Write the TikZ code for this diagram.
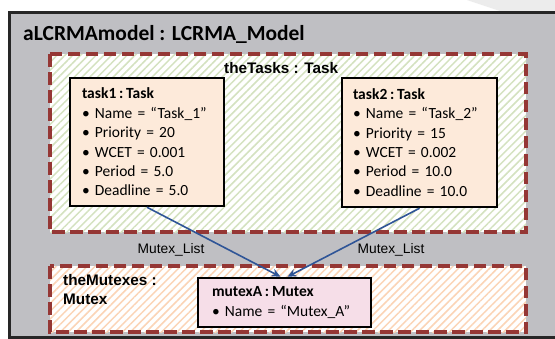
\documentclass[tikz,border=0pt]{standalone}
\usepackage{fontspec}
\setmainfont{Carlito}
\newfontfamily\arialfont{Liberation Sans}
\usetikzlibrary{patterns.meta,arrows.meta}

\definecolor{framegray}{RGB}{191,191,195}
\definecolor{frameline}{RGB}{38,38,38}
\definecolor{cornergray}{RGB}{236,236,236}
\definecolor{dashred}{RGB}{149,55,53}
\definecolor{hatchgreen}{RGB}{212,226,192}
\definecolor{hatchorange}{RGB}{251,212,182}
\definecolor{taskfill}{RGB}{253,234,218}
\definecolor{mutexfill}{RGB}{246,222,232}
\definecolor{linkblue}{RGB}{47,85,151}

\newcommand{\ofcls}{\hspace{0.18em}:\hspace{0.18em}}

\tikzset{
  groupbox/.style={draw=dashred, line width=4pt, dash pattern=on 12.5pt off 5.5pt},
  greenhatch/.style={preaction={fill=white},
    pattern={Lines[angle=45,distance=5.5pt,line width=1.5pt]}, pattern color=hatchgreen},
  orangehatch/.style={preaction={fill=white},
    pattern={Lines[angle=45,distance=5.5pt,line width=1.5pt]}, pattern color=hatchorange},
  objbox/.style={draw=black, line width=2.5pt, rectangle, inner ysep=0pt,
    align=left, font=\fontsize{15.5}{19.4}\selectfont},
  grouplabel/.style={font=\arialfont\bfseries\fontsize{15.3}{19}\selectfont, inner sep=0pt, align=left},
  linklabel/.style={font=\arialfont\fontsize{13.8}{16}\selectfont, inner sep=0pt},
  assoc/.style={draw=linkblue, line width=1.6pt,
    -{Stealth[length=9pt,width=8pt,inset=3pt]}}
}

\begin{document}
\begin{tikzpicture}[x=1pt,y=-1pt]
\useasboundingbox (0,0) rectangle (555,338);
\fill[white] (0,0) rectangle (555,338);
\fill[cornergray] (467,0) -- (555,0) -- (555,11) -- (500,11) -- cycle;

% outer model frame
\draw[fill=framegray, draw=frameline, line width=3pt] (9.5,12) rectangle (565,337.5);
\node[anchor=base west, inner sep=0pt, font=\bfseries\fontsize{21.5}{24}\selectfont]
  (title) at (23,40) {aLCRMAmodel : LCRMA\_Model};

% task group
\path[greenhatch] (50,54) rectangle (526,232);
\draw[groupbox] (50,54) rectangle (526,232);
\node[grouplabel, anchor=base west] (tasksLabel) at (224,73) {theTasks : Task};

% mutex group
\path[orangehatch] (50,266) rectangle (526,332);
\draw[groupbox] (50,266) rectangle (526,332);
\node[grouplabel, anchor=base west] (mutexesLabel) at (63,304) {theMutexes :\\Mutex};

% objects
\node[objbox, fill=taskfill, minimum width=154pt, minimum height=128pt,
      inner xsep=12pt, text width=130pt] (task1) at (147,142)
  {\textbf{task1\ofcls Task}\\
   • Name = “Task\_1”\\
   • Priority = 20\\
   • WCET = 0.001\\
   • Period = 5.0\\
   • Deadline = 5.0};

\node[objbox, fill=taskfill, minimum width=155pt, minimum height=129pt,
      inner xsep=11pt, text width=133pt] (task2) at (419.5,142.5)
  {\textbf{task2\ofcls Task}\\
   • Name = “Task\_2”\\
   • Priority = 15\\
   • WCET = 0.002\\
   • Period = 10.0\\
   • Deadline = 10.0};

\node[objbox, fill=mutexfill, minimum width=173pt, minimum height=49pt,
      inner xsep=14pt, text width=145pt] (mutexA) at (284.5,302.5)
  {\textbf{mutexA\ofcls Mutex}\\
   • Name = “Mutex\_A”};

% associations
\draw[assoc] (task1.south) -- ([xshift=-4pt]mutexA.north);
\draw[assoc] (task2.south) -- ([xshift=3pt]mutexA.north);
\node[linklabel, anchor=base] (link1) at (171,253) {Mutex\_List};
\node[linklabel, anchor=base] (link2) at (391,253) {Mutex\_List};
\end{tikzpicture}
\end{document}
